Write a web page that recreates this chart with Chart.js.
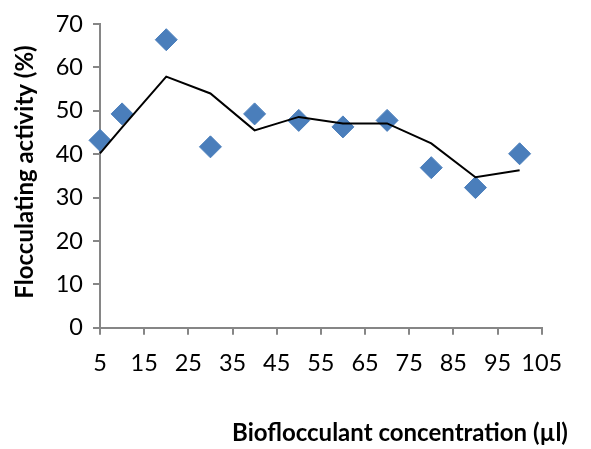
<!DOCTYPE html>
<html>
<head>
<meta charset="utf-8">
<script src="https://cdn.jsdelivr.net/npm/chart.js@4/dist/chart.umd.min.js"></script>
<style>
  html, body { margin: 0; padding: 0; background: #fff; }
  #wrap { width: 591px; height: 449px; position: relative; }
</style>
</head>
<body>
<div id="wrap"><canvas id="grafico" width="591" height="449"></canvas></div>
<script>
// Datos
const concentracion = [5, 10, 20, 30, 40, 50, 60, 70, 80, 90, 100];
const actividad = [43.2, 49.3, 66.4, 41.7, 49.3, 47.8, 46.3, 47.8, 36.9, 32.3, 40.1];
const tendenciaX = [5, 10, 20, 30, 40, 50, 60, 70, 80, 90, 100];
const tendenciaY = [40.2, 46.2, 57.9, 54.0, 45.5, 48.6, 47.1, 47.1, 42.5, 34.7, 36.3];
const ticksX = [5, 15, 25, 35, 45, 55, 65, 75, 85, 95, 105];
const ticksY = [0, 10, 20, 30, 40, 50, 60, 70];

const tituloX = 'Bioflocculant concentration (µl)';
const tituloY = 'Flocculating activity (%)';

const fuente = 'Lato, "Open Sans", sans-serif';
const gris = '#868686';

// Titulos de los ejes dibujados a mano para ubicarlos como en la imagen
const titulosEjes = {
    id: 'titulosEjes',
    afterDraw(chart) {
        const ctx = chart.ctx;
        ctx.save();
        ctx.fillStyle = '#000';
        ctx.font = 'bold 24px ' + fuente;
        ctx.textAlign = 'center';
        ctx.textBaseline = 'middle';
        ctx.fillText(tituloX, 400, 433);
        ctx.translate(25, 172);
        ctx.rotate(-Math.PI / 2);
        ctx.fillText(tituloY, 0, 0);
        ctx.restore();
    }
};

const ctx = document.getElementById('grafico').getContext('2d');
const chart = new Chart(ctx, {
    type: 'scatter',
    data: {
        datasets: [
            {
                type: 'line',
                label: 'Tendencia',
                data: tendenciaX.map((x, i) => ({ x: x, y: tendenciaY[i] })),
                borderColor: '#000',
                borderWidth: 2,
                pointRadius: 0,
                fill: false,
                tension: 0,
                clip: false,
                order: 0
            },
            {
                label: 'Actividad',
                data: concentracion.map((x, i) => ({ x: x, y: actividad[i] })),
                pointStyle: 'rectRot',
                pointRadius: 11,
                pointBackgroundColor: '#4A7EBB',
                pointBorderColor: '#4A7EBB',
                pointBorderWidth: 1,
                showLine: false,
                clip: false,
                order: 1
            }
        ]
    },
    options: {
        responsive: false,
        animation: false,
        layout: { padding: { top: 15.3, right: 49.3, left: 0, bottom: 0 } },
        plugins: {
            legend: { display: false },
            tooltip: { enabled: false }
        },
        scales: {
            x: {
                type: 'linear',
                min: 5,
                max: 105,
                afterBuildTicks: (scale) => { scale.ticks = ticksX.map(v => ({ value: v })); },
                afterFit: (scale) => { scale.height = 449 - 327.7; },
                ticks: { color: '#000', font: { family: fuente, size: 23.5 }, padding: 15, maxRotation: 0 },
                grid: { drawOnChartArea: false, drawTicks: true, tickLength: 7, color: gris, lineWidth: 2 },
                border: { color: gris, width: 2 }
            },
            y: {
                min: 0,
                max: 70,
                afterBuildTicks: (scale) => { scale.ticks = ticksY.map(v => ({ value: v })); },
                afterFit: (scale) => { scale.width = 100; },
                ticks: { color: '#000', font: { family: fuente, size: 23.5 }, padding: 10 },
                grid: { drawOnChartArea: false, drawTicks: true, tickLength: 7, color: gris, lineWidth: 2 },
                border: { color: gris, width: 2 }
            }
        }
    },
    plugins: [titulosEjes]
});
</script>
</body>
</html>
